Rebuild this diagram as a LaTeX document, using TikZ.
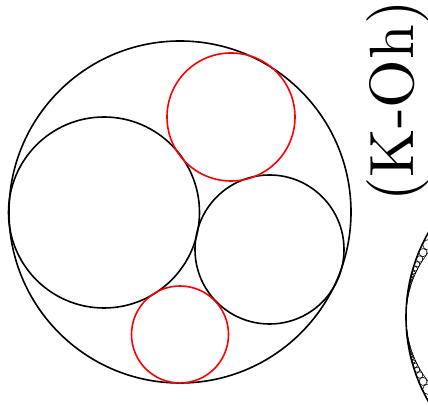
\documentclass[tikz,border=0pt]{standalone}
\usepackage{tikz}
\usepackage{graphicx}
\usetikzlibrary{calc}

\begin{document}
\begin{tikzpicture}[
    x=1pt, y=1pt,
    blackcirc/.style={draw, line width=1.6pt},
    redcirc/.style={draw=red, line width=1.6pt},
    chaincirc/.style={draw, line width=0.6pt},
    label/.style={rotate=90, anchor=base west, inner sep=0pt}
]
\useasboundingbox (0,0) rectangle (428,406);
\clip (0,0) rectangle (428,406);

% main configuration
\coordinate (O) at (180,194);
\coordinate (L) at (104,193.5);
\coordinate (R) at (269.5,156.5);
\coordinate (top) at (231,289);
\coordinate (bot) at (180,71.5);
\draw[blackcirc] (O) circle (171);
\draw[blackcirc] (L) circle (95.5);
\draw[blackcirc] (R) circle (74.5);
\draw[redcirc] (top) circle (64);
\draw[redcirc] (bot) circle (48.5);

\node[label] (name) at (413,204) {\scalebox{6.25}{(K-Oh)}};

% next picture, cut by the border
\coordinate (T) at (406,89);
\draw[blackcirc] ($(T)+(170,0)$) circle (170);
\draw[chaincirc] ($(T)+(105,0)$) circle (105);
\foreach \n in {-40,...,40}{
  \pgfmathsetmacro{\dd}{0.14005+(0.1821*\n)*(0.1821*\n)}
  \pgfmathsetmacro{\cx}{38.515/\dd}
  \pgfmathsetmacro{\cy}{18.21*\n/\dd}
  \pgfmathsetmacro{\rr}{9.105/\dd}
  \draw[chaincirc] ($(T)+(\cx,\cy)$) circle (\rr);
}

\end{tikzpicture}
\end{document}
